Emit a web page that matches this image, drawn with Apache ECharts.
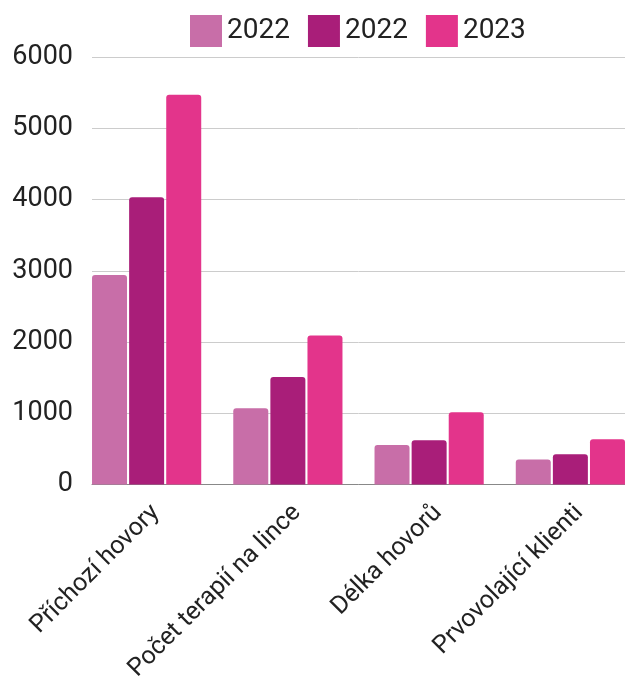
<!DOCTYPE html>
<html>
<head>
<meta charset="utf-8">
<script src="https://cdn.jsdelivr.net/npm/echarts@6/dist/echarts.min.js"></script>
<style>
html,body{margin:0;padding:0;background:#fff;overflow:hidden;width:625px;height:684px;}
#chart{width:680px;height:684px;}
</style>
</head>
<body>
<div id="chart"></div>
<script>
const categories = ["Příchozí hovory", "Počet terapií na lince", "Délka hovorů", "Prvovolající klienti"];
const seriesNames = ["2022", "2022 ", "2023"];
const values2022a = [2940, 1070, 555, 350];
const values2022b = [4030, 1510, 620, 425];
const values2023 = [5470, 2090, 1015, 635];
const colors = ["#C86EA8", "#A91E79", "#E3348B"];
const yTicks = { min: 0, max: 6000, interval: 1000 };

const FONT = "Roboto";
const chart = echarts.init(document.getElementById('chart'), null, { renderer: 'canvas' });

const seriesData = [values2022a, values2022b, values2023];
const option = {
  animation: false,
  textStyle: { fontFamily: FONT },
  legend: {
    left: 190, top: 15,
    itemWidth: 32, itemHeight: 32, itemGap: 18,
    icon: 'rect',
    padding: 0,
    formatter: n => n.trim(),
    textStyle: { fontSize: 28, color: '#222', fontFamily: FONT },
    data: seriesNames
  },
  grid: [
    { left: 92, width: 533, top: 57, height: 427.5 },
    { left: 76, width: 565, top: 57, height: 427.5 },
    { left: 85, width: 565, top: 57, height: 427.5 }
  ],
  xAxis: [
    { gridIndex: 0, type: 'category', data: categories,
      axisLine: { lineStyle: { color: '#888', width: 1 } },
      axisTick: { show: false }, axisLabel: { show: false } },
    { gridIndex: 1, type: 'category', data: categories,
      axisLine: { show: false }, axisTick: { show: false }, axisLabel: { show: false } },
    { gridIndex: 2, type: 'category', data: categories,
      axisLine: { show: false }, axisTick: { show: false },
      axisLabel: { rotate: 45, fontSize: 25, color: '#222', margin: 44, interval: 0, fontFamily: FONT } }
  ],
  yAxis: [
    { gridIndex: 0, type: 'value', min: yTicks.min, max: yTicks.max, interval: yTicks.interval,
      axisLine: { show: false }, axisTick: { show: false },
      axisLabel: { fontSize: 27, color: '#222', margin: 19, fontFamily: FONT, formatter: v => String(v) },
      splitLine: { lineStyle: { color: '#cccccc', width: 1 } } },
    { gridIndex: 1, type: 'value', min: yTicks.min, max: yTicks.max, interval: yTicks.interval, show: false,
      splitLine: { show: false } },
    { gridIndex: 2, type: 'value', min: yTicks.min, max: yTicks.max, interval: yTicks.interval, show: false,
      splitLine: { show: false } }
  ],
  series: seriesData.map((d, i) => ({
    name: seriesNames[i],
    type: 'bar',
    xAxisIndex: 1, yAxisIndex: 1,
    data: d,
    barWidth: 35,
    barGap: '6%',
    itemStyle: { color: colors[i], borderRadius: [3, 3, 0, 0] }
  }))
};
chart.setOption(option);
</script>
</body>
</html>
